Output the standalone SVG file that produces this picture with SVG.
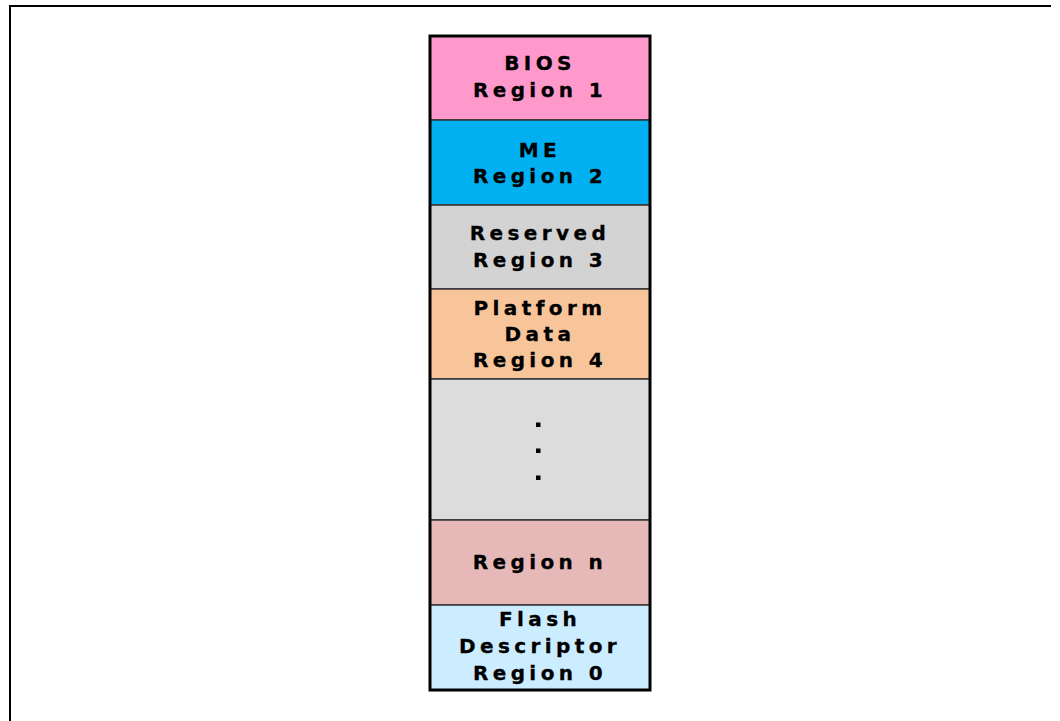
<svg xmlns="http://www.w3.org/2000/svg" width="1060" height="721" viewBox="0 0 1060 721">
<style>
.t{font-family:"DejaVu Sans","Verdana",sans-serif;font-weight:bold;font-size:20px;letter-spacing:4.4px;fill:#000;text-anchor:middle;stroke:#000;stroke-width:0.3}
.cell{stroke:#333;stroke-width:1.5}
</style>
<rect x="0" y="0" width="1060" height="721" fill="#fff"/>
<path d="M10,721 V6 H1051" fill="none" stroke="#000" stroke-width="2"/>
<g id="bios"><rect class="cell" x="430" y="36" width="220" height="84" fill="#FF99CC"/><text class="t" x="540" y="70">BIOS</text><text class="t" x="540" y="96.5">Region 1</text></g>
<g id="me"><rect class="cell" x="430" y="120" width="220" height="85" fill="#00B0F0"/><text class="t" x="540" y="157">ME</text><text class="t" x="540" y="182.5">Region 2</text></g>
<g id="reserved"><rect class="cell" x="430" y="205" width="220" height="84" fill="#D3D3D3"/><text class="t" x="540" y="240">Reserved</text><text class="t" x="540" y="266.5">Region 3</text></g>
<g id="platform"><rect class="cell" x="430" y="289" width="220" height="90" fill="#F8C59B"/><text class="t" x="540" y="314.5">Platform</text><text class="t" x="540" y="341">Data</text><text class="t" x="540" y="367">Region 4</text></g>
<g id="dots"><rect class="cell" x="430" y="379" width="220" height="141" fill="#DCDCDC"/><rect x="536" y="422.5" width="4.5" height="4.5" fill="#000"/><rect x="536" y="448.5" width="4.5" height="4.5" fill="#000"/><rect x="536" y="475.5" width="4.5" height="4.5" fill="#000"/></g>
<g id="regionn"><rect class="cell" x="430" y="520" width="220" height="85" fill="#E6B9B8"/><text class="t" x="540" y="569">Region n</text></g>
<g id="flash"><rect class="cell" x="430" y="605" width="220" height="85" fill="#CCECFF"/><text class="t" x="540" y="626">Flash</text><text class="t" x="540" y="653">Descriptor</text><text class="t" x="540" y="680">Region 0</text></g>
<g id="connectors"></g>
<rect x="430" y="36" width="220" height="654" fill="none" stroke="#000" stroke-width="3"/>
</svg>
